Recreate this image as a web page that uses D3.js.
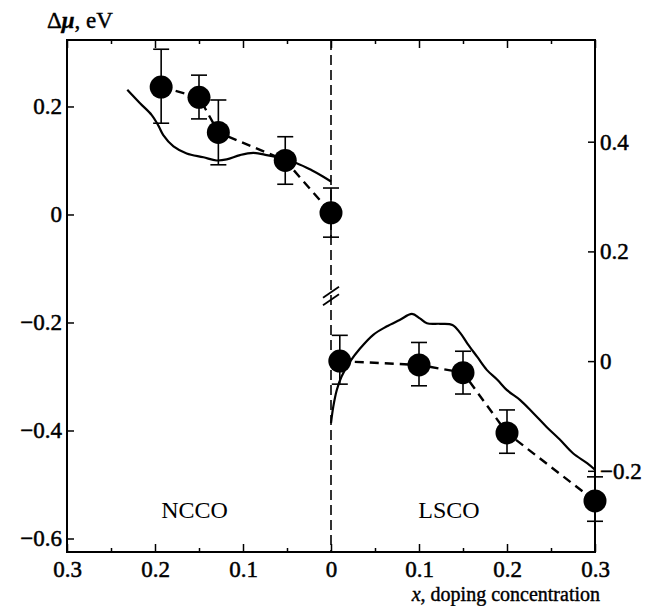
<!DOCTYPE html>
<html>
<head>
<meta charset="utf-8">
<script src="https://cdn.jsdelivr.net/npm/d3@7"></script>
<style>
  body { margin: 0; background: #fff; }
  text { font-family: "Liberation Serif", serif; fill: #000; }
</style>
</head>
<body>
<div id="chart"></div>
<script>
// NCCO (electron doped), read against the left axis
const nccoX = [0.193, 0.15, 0.128, 0.052, 0];
const nccoMu = [0.236, 0.217, 0.152, 0.100, 0.003];
const nccoHi = [0.306, 0.258, 0.212, 0.144, 0.049];
const nccoLo = [0.169, 0.177, 0.092, 0.056, -0.042];

// LSCO (hole doped), read against the right axis
const lscoX = [0.01, 0.1, 0.15, 0.2, 0.3];
const lscoMu = [0.0, -0.007, -0.021, -0.131, -0.255];
const lscoHi = [0.047, 0.034, 0.018, -0.089, -0.211];
const lscoLo = [-0.042, -0.045, -0.060, -0.168, -0.292];

// theory curves
const nccoCurveX = [0.2315, 0.217, 0.2037, 0.196, 0.1906, 0.179, 0.164, 0.145, 0.130, 0.1185, 0.1034, 0.0883, 0.073, 0.0617, 0.039, 0.0219, 0.0087, 0.0];
const nccoCurveY = [0.231, 0.206, 0.184, 0.164, 0.147, 0.126, 0.113, 0.106, 0.100, 0.102, 0.110, 0.114, 0.110, 0.106, 0.095, 0.082, 0.070, 0.061];
const lscoCurveX = [0, 0.0026, 0.0065, 0.012, 0.0216, 0.033, 0.048, 0.063, 0.078, 0.092, 0.101, 0.109, 0.124, 0.138, 0.147, 0.155, 0.166, 0.177, 0.189, 0.2, 0.215, 0.23, 0.245, 0.26, 0.275, 0.291, 0.3];
const lscoCurveY = [-0.113, -0.083, -0.053, -0.028, -0.001, 0.023, 0.048, 0.063, 0.075, 0.086, 0.078, 0.069, 0.068, 0.066, 0.051, 0.032, 0.008, -0.016, -0.034, -0.053, -0.071, -0.095, -0.12, -0.143, -0.168, -0.186, -0.198];

const xMajor = [-0.3, -0.2, -0.1, 0, 0.1, 0.2, 0.3];
const xMinor = [-0.25, -0.15, -0.05, 0.05, 0.15, 0.25];
const leftTicks = [0.2, 0, -0.2, -0.4, -0.6];
const rightTicks = [0.4, 0.2, 0, -0.2];

const W = 652, H = 606;
const margin = { top: 40, right: 57, bottom: 54, left: 67 };

const svg = d3.select('#chart').append('svg')
  .attr('width', W)
  .attr('height', H);

const x = d3.scaleLinear().domain([-0.3, 0.3]).range([margin.left, W - margin.right]);
const yL = d3.scaleLinear().domain([-0.625, 0.3231]).range([H - margin.bottom, margin.top]);
const yR = d3.scaleLinear().domain([-0.348, 0.5854]).range([H - margin.bottom, margin.top]);

const fmt = d => d === 0 ? '0' : d3.format('.1f')(d);
const tickFont = g => g.selectAll('text')
  .style('font-size', '23px')
  .style('font-family', '"Liberation Serif", serif')
  .attr('stroke', '#000')
  .attr('stroke-width', 0.5);

// axes (ticks point inward)
svg.append('g')
  .attr('transform', `translate(0,${H - margin.bottom})`)
  .call(d3.axisBottom(x).tickValues(xMajor).tickSizeInner(-8).tickSizeOuter(0).tickPadding(9)
    .tickFormat(d => fmt(Math.abs(d))))
  .call(tickFont)
  .call(g => g.select('.domain').remove());

svg.append('g')
  .attr('transform', `translate(0,${H - margin.bottom})`)
  .call(d3.axisBottom(x).tickValues(xMinor).tickSizeInner(-4).tickSizeOuter(0).tickFormat(''))
  .call(g => g.select('.domain').remove());

svg.append('g')
  .attr('transform', `translate(0,${margin.top})`)
  .call(d3.axisTop(x).tickValues(xMajor).tickSizeInner(-8).tickSizeOuter(0).tickFormat(''))
  .call(g => g.select('.domain').remove());

svg.append('g')
  .attr('transform', `translate(0,${margin.top})`)
  .call(d3.axisTop(x).tickValues(xMinor).tickSizeInner(-4).tickSizeOuter(0).tickFormat(''))
  .call(g => g.select('.domain').remove());

svg.append('g')
  .attr('transform', `translate(${margin.left},0)`)
  .call(d3.axisLeft(yL).tickValues(leftTicks).tickSizeInner(-7).tickSizeOuter(0).tickPadding(5).tickFormat(fmt))
  .call(tickFont)
  .call(g => g.select('.domain').remove());

svg.append('g')
  .attr('transform', `translate(${W - margin.right},0)`)
  .call(d3.axisRight(yR).tickValues(rightTicks).tickSizeInner(-7).tickSizeOuter(0).tickPadding(5).tickFormat(fmt))
  .call(tickFont)
  .call(g => g.select('.domain').remove());

svg.selectAll('.tick line').attr('stroke', '#000').attr('stroke-width', 1.5);

// frame
svg.append('rect')
  .attr('x', margin.left)
  .attr('y', margin.top)
  .attr('width', W - margin.left - margin.right)
  .attr('height', H - margin.top - margin.bottom)
  .attr('fill', 'none')
  .attr('stroke', '#000')
  .attr('stroke-width', 2);

// vertical dashed divider at x = 0 with break marks
svg.append('line')
  .attr('x1', x(0)).attr('x2', x(0))
  .attr('y1', margin.top).attr('y2', H - margin.bottom)
  .attr('stroke', '#000')
  .attr('stroke-width', 1.6)
  .attr('stroke-dasharray', '10,5');

[-0.144, -0.158].forEach(v => {
  svg.append('line')
    .attr('x1', x(0) - 8).attr('y1', yL(v) + 5.5)
    .attr('x2', x(0) + 8).attr('y2', yL(v) - 5.5)
    .attr('stroke', '#000')
    .attr('stroke-width', 1.8);
});

// theory curves (solid)
const solid = d3.line().curve(d3.curveCatmullRom);
svg.append('path')
  .attr('d', solid(nccoCurveX.map((v, i) => [x(-v), yL(nccoCurveY[i])])))
  .attr('fill', 'none')
  .attr('stroke', '#000')
  .attr('stroke-width', 2.2);

svg.append('path')
  .attr('d', solid(lscoCurveX.map((v, i) => [x(v), yR(lscoCurveY[i])])))
  .attr('fill', 'none')
  .attr('stroke', '#000')
  .attr('stroke-width', 2.2);

// experimental points joined by dashed lines
const nccoPts = nccoX.map((v, i) => ({ px: x(-v), py: yL(nccoMu[i]), hi: yL(nccoHi[i]), lo: yL(nccoLo[i]) }));
const lscoPts = lscoX.map((v, i) => ({ px: x(v), py: yR(lscoMu[i]), hi: yR(lscoHi[i]), lo: yR(lscoLo[i]) }));

const straight = d3.line().x(d => d.px).y(d => d.py);
[nccoPts, lscoPts].forEach(pts => {
  svg.append('path')
    .attr('d', straight(pts))
    .attr('fill', 'none')
    .attr('stroke', '#000')
    .attr('stroke-width', 2.4)
    .attr('stroke-dasharray', '9,6');

  const g = svg.append('g');
  pts.forEach(p => {
    g.append('line').attr('x1', p.px).attr('x2', p.px).attr('y1', p.hi).attr('y2', p.lo)
      .attr('stroke', '#000').attr('stroke-width', 1.6);
    [p.hi, p.lo].forEach(yy => {
      g.append('line').attr('x1', p.px - 8).attr('x2', p.px + 8).attr('y1', yy).attr('y2', yy)
        .attr('stroke', '#000').attr('stroke-width', 1.6);
    });
    g.append('circle').attr('cx', p.px).attr('cy', p.py).attr('r', 11.5).attr('fill', '#000');
  });
});

// labels
svg.append('text')
  .attr('x', x(-0.155)).attr('y', 518)
  .attr('text-anchor', 'middle')
  .style('font-size', '24px')
  .text('NCCO');

svg.append('text')
  .attr('x', x(0.134)).attr('y', 518)
  .attr('text-anchor', 'middle')
  .style('font-size', '24px')
  .text('LSCO');

const yTitle = svg.append('text')
  .attr('x', 47).attr('y', 28)
  .style('font-size', '23px')
  .attr('stroke', '#000')
  .attr('stroke-width', 0.4);
yTitle.append('tspan').text('Δ');
yTitle.append('tspan').style('font-style', 'italic').style('font-weight', 'bold').text('μ');
yTitle.append('tspan').text(', eV');

const xTitle = svg.append('text')
  .attr('x', 600).attr('y', 601)
  .attr('text-anchor', 'end')
  .style('font-size', '20px')
  .attr('stroke', '#000')
  .attr('stroke-width', 0.4);
xTitle.append('tspan').style('font-style', 'italic').text('x');
xTitle.append('tspan').text(', doping concentration');
</script>
</body>
</html>
